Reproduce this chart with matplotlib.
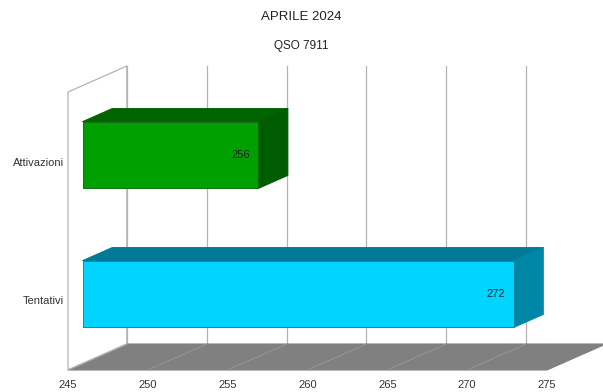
import matplotlib
matplotlib.use("Agg")
import matplotlib.pyplot as plt
from matplotlib.patches import Polygon

plt.rcParams['font.family'] = ['Liberation Sans', 'DejaVu Sans']

title = "APRILE 2024"
subtitle = "QSO 7911"
categories = ["Tentativi", "Attivazioni"]
values = [272, 256]
front_colors = ["#00d4ff", "#009f00"]
top_colors = ["#007a96", "#006400"]
side_colors = ["#0087a8", "#005c00"]
x_min, x_max, x_step = 245, 275, 5

# oblique depth offset (data units per full depth)
DX = 59 / 16
DY = 26 / 139
BAR_W = 0.48
D0, D1 = 0.25, 0.75


def proj(v, c, d):
    return (v + d * DX, c + d * DY)


def poly(ax, pts, fc, ec=None, lw=0.8, z=1):
    p = Polygon(pts, closed=True, facecolor=fc, edgecolor=ec if ec else fc,
                linewidth=lw, joinstyle='round', clip_on=False, zorder=z)
    ax.add_patch(p)


fig = plt.figure(figsize=(6.03, 3.92), dpi=100)
ax = fig.add_axes([68 / 603, 1 - 370 / 392, (547 - 68) / 603, (370 - 92) / 392])
ax.set_xlim(x_min, x_max)
ax.set_ylim(0, len(categories))
for s in ax.spines.values():
    s.set_visible(False)
ax.set_facecolor("none")

ticks = list(range(x_min, x_max + 1, x_step))
ax.set_xticks(ticks)
ax.set_xticklabels([str(t) for t in ticks], fontsize=8, color="#333333")
ax.set_yticks([i + 0.5 for i in range(len(categories))])
ax.set_yticklabels(categories, fontsize=8, color="#333333")
ax.tick_params(axis='x', length=0, pad=7.5)
ax.tick_params(axis='y', length=0, pad=3)

top = len(categories)
grid_c = "#b3b3b3"

# back wall grid lines
for t in ticks:
    x0, y0 = proj(t, 0, 1)
    x1, y1 = proj(t, top, 1)
    ax.plot([x0, x1], [y0, y1], color=grid_c, lw=0.9, clip_on=False, zorder=0)

# floor
poly(ax, [proj(x_min, 0, 0), proj(x_max, 0, 0), proj(x_max, 0, 1), proj(x_min, 0, 1)],
     "#808080", z=1)
for t in ticks[1:-1]:
    x0, y0 = proj(t, 0, 0)
    x1, y1 = proj(t, 0, 1)
    ax.plot([x0, x1], [y0, y1], color="#9a9a9a", lw=0.6, clip_on=False, zorder=1.5)

# left wall
poly(ax, [proj(x_min, 0, 0), proj(x_min, top, 0), proj(x_min, top, 1), proj(x_min, 0, 1)],
     "none", ec=grid_c, lw=0.9, z=1)

# bars
for i, (v, fc, tc, sc) in enumerate(zip(values, front_colors, top_colors, side_colors)):
    c0, c1 = i + 0.5 - BAR_W / 2, i + 0.5 + BAR_W / 2
    poly(ax, [proj(x_min, c1, D0), proj(v, c1, D0), proj(v, c1, D1), proj(x_min, c1, D1)], tc, z=3)
    poly(ax, [proj(v, c0, D0), proj(v, c0, D1), proj(v, c1, D1), proj(v, c1, D0)], sc, z=3)
    poly(ax, [proj(x_min, c0, D0), proj(v, c0, D0), proj(v, c1, D0), proj(x_min, c1, D0)], fc,
         ec=tc, lw=0.6, z=4)
    lx, ly = proj(v, i + 0.5, D0)
    ax.annotate(str(v), (lx, ly), xytext=(-6, 0), textcoords='offset points',
                ha='right', va='center', fontsize=8, color="#222222", zorder=5,
                annotation_clip=False)

fig.text(0.5, 1 - 17 / 392, title, ha='center', va='center', fontsize=9.5, color="#222222")
fig.text(0.5, 1 - 46 / 392, subtitle, ha='center', va='center', fontsize=8.5, color="#222222")

fig.savefig("out.png", dpi=100)
